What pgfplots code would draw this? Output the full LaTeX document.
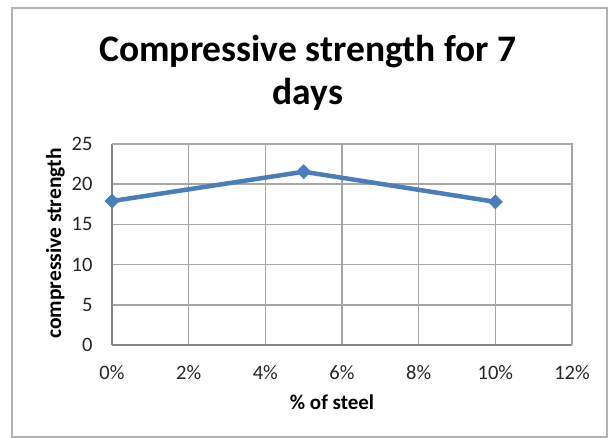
\documentclass[border=0pt]{standalone}
\usepackage{fontspec}
\setmainfont{Carlito}
\usepackage{pgfplots}
\pgfplotsset{compat=1.18}

\definecolor{serieblue}{HTML}{4A7EBB}
\definecolor{gridgray}{HTML}{A6A6A6}
\definecolor{axisgray}{HTML}{868686}

\begin{document}
\begin{tikzpicture}[x=1bp,y=1bp]
  % chart frame, also fixes the page size
  \path[use as bounding box] (0,0) rectangle (611,438);
  \draw[gray!60, line width=1.2bp] (12,1) rectangle (607,430);

  \node[anchor=base, font=\fontsize{37.5bp}{44bp}\selectfont\bfseries] at (308,376) {Compressive strength for 7};
  \node[anchor=base, font=\fontsize{37.5bp}{44bp}\selectfont\bfseries] at (308,333) {days};

  \begin{axis}[
      at={(112bp,93bp)}, anchor=south west,
      scale only axis,
      width=460bp, height=201bp,
      xmin=0, xmax=12, ymin=0, ymax=25,
      xtick={0,2,...,12}, ytick={0,5,...,25},
      xticklabel={\pgfmathprintnumber{\tick}\%},
      /pgf/number format/assume math mode=true,
      ticklabel style={font=\fontsize{20.5bp}{22bp}\selectfont, text=black!85},
      major tick length=0pt,
      xticklabel shift=17bp, yticklabel shift=16bp,
      grid=major,
      major grid style={gridgray, line width=1.6bp},
      axis line style={axisgray, line width=2.4bp},
      axis x line*=bottom, axis y line*=left,
      clip=false,
    ]
    % right and top edges of the plot area, drawn as grid lines
    \draw[gridgray, line width=1.6bp] (axis cs:0,25) -- (axis cs:12,25) -- (axis cs:12,0);
    \addplot[serieblue, line width=4.5bp, mark=square*, mark size=5bp,
             mark options={rotate=45, solid, fill=serieblue, draw=serieblue, line width=0.5bp}]
      coordinates {(0,17.9) (5,21.55) (10,17.8)};
  \end{axis}

  \node[anchor=base, rotate=90, font=\fontsize{21.5bp}{24bp}\selectfont\bfseries] at (61,194.5) {compressive strength};
  \node[anchor=base, font=\fontsize{21bp}{24bp}\selectfont\bfseries] at (332,28) {\% of steel};
\end{tikzpicture}
\end{document}
